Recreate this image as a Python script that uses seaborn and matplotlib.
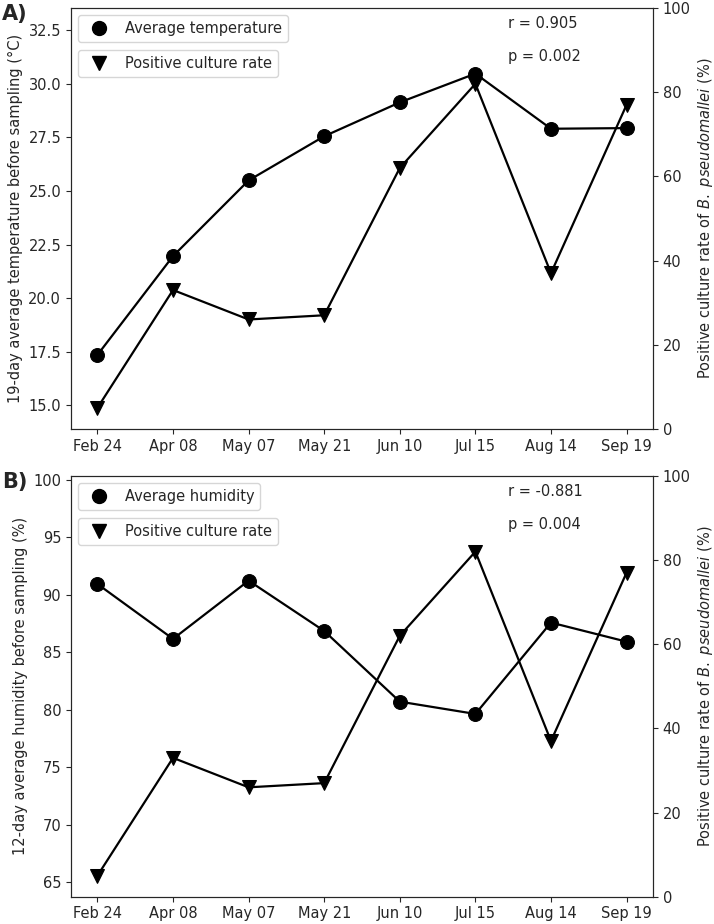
import matplotlib
matplotlib.use("Agg")
import matplotlib.pyplot as plt
from matplotlib.lines import Line2D
import seaborn as sns

dates = ["Feb 24", "Apr 08", "May 07", "May 21", "Jun 10", "Jul 15", "Aug 14", "Sep 19"]
temperature = [17.35, 21.96, 25.49, 27.55, 29.13, 30.47, 27.90, 27.93]
humidity = [90.94, 86.16, 91.23, 86.85, 80.70, 79.63, 87.58, 85.92]
positive_rate = [5, 33, 26, 27, 62, 82, 37, 77]

sns.set_style("ticks")
plt.rcParams["font.size"] = 10.5

fig, axes = plt.subplots(nrows=2, ncols=1, figsize=(7.14, 9.24), dpi=100)
fig.subplots_adjust(left=0.0994, right=0.9146, top=0.9913, bottom=0.0295, hspace=0.1116)

panels = [
    (axes[0], temperature, "Average temperature",
     "19-day average temperature before sampling (°C)", (13.9, 33.53),
     "r = 0.905", "p = 0.002", "A)"),
    (axes[1], humidity, "Average humidity",
     "12-day average humidity before sampling (%)", (63.72, 100.35),
     "r = -0.881", "p = 0.004", "B)"),
]

for ax, weather, wlabel, ylabel, ylim, rtxt, ptxt, tag in panels:
    sns.lineplot(x=dates, y=weather, sort=False, color="black", marker="o",
                 markersize=10, markeredgecolor="black", linewidth=1.6, ax=ax)
    ax.set_ylim(*ylim)
    ax.set_ylabel(ylabel)

    ax2 = ax.twinx()
    sns.lineplot(x=dates, y=positive_rate, sort=False, color="black", marker="v",
                 markersize=10, markeredgecolor="black", linewidth=1.6, ax=ax2)
    ax2.set_ylim(0, 100)
    ax2.set_ylabel(r"Positive culture rate of $\it{B.\ pseudomallei}$ (%)")

    # legends show markers only, stacked in the upper left corner
    h1 = Line2D([], [], color="black", marker="o", linestyle="", markersize=10)
    h2 = Line2D([], [], color="black", marker="v", linestyle="", markersize=10)
    leg1 = ax2.legend(handles=[h1], labels=[wlabel], loc="upper left")
    ax2.add_artist(leg1)
    ax2.legend(handles=[h2], labels=["Positive culture rate"], loc="upper left",
               bbox_to_anchor=(0, 0.917))

    ax2.text(0.75, 0.964, rtxt, transform=ax2.transAxes, va="center", ha="left")
    ax2.text(0.75, 0.884, ptxt, transform=ax2.transAxes, va="center", ha="left")

    box = ax.get_position()
    fig.text(0.003, box.y1 + 0.004, tag, fontsize=15, fontweight="bold", va="top")

plt.savefig("out.png", dpi=100, facecolor="white")
